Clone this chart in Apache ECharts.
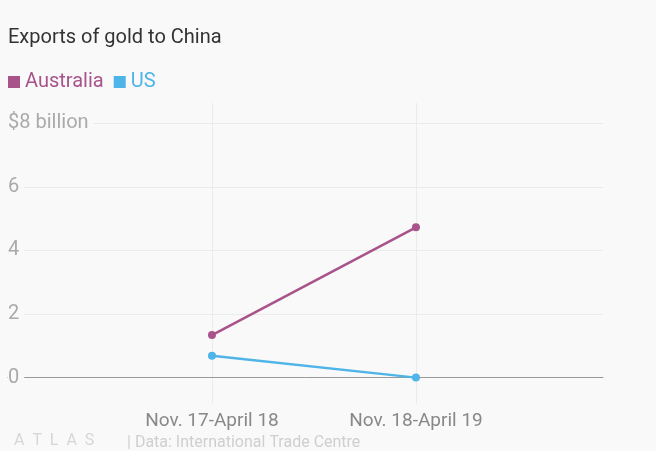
<!DOCTYPE html>
<html><head><meta charset="utf-8">
<script src="https://cdn.jsdelivr.net/npm/echarts@6/dist/echarts.min.js"></script>
<style>html,body{margin:0;padding:0;background:#f9f9f9;}#c{width:656px;height:451px;}</style>
</head><body><div id="c"></div>
<script>
const categories = ['Nov. 17-April 18', 'Nov. 18-April 19'];
const australia = [1.34, 4.73];
const us = [0.69, 0.0];
const yTicks = [0, 2, 4, 6, 8];
const yTickLabels = ['0', '2', '4', '6', '$8 billion'];

const BG = '#f9f9f9';
const FONT = 'Roboto';
const chart = echarts.init(document.getElementById('c'), null, {renderer: 'canvas'});
const xPos = categories.map((c, i) => i + 1);
chart.setOption({
  backgroundColor: BG,
  animation: false,
  textStyle: {fontFamily: FONT},
  title: {
    text: 'Exports of gold to China', left: 3, top: 23,
    textStyle: {fontFamily: FONT, fontSize: 20, fontWeight: 'normal', color: '#333'}
  },
  legend: {
    left: 3, top: 67, icon: 'rect', itemWidth: 12, itemHeight: 12, itemGap: 10,
    textStyle: {fontFamily: FONT, fontSize: 20},
    data: [
      {name: 'Australia', textStyle: {color: '#a8538a'}},
      {name: 'US', textStyle: {color: '#4fb4e8'}}
    ]
  },
  grid: {left: 8, right: 53, top: 103, bottom: 47, containLabel: false},
  xAxis: {
    type: 'value', min: 0, max: 2.917,
    axisLine: {show: true, onZero: true, lineStyle: {color: '#999', width: 1}},
    axisTick: {show: false, customValues: xPos},
    axisLabel: {
      customValues: xPos, margin: 8, fontSize: 19, color: '#888', fontFamily: FONT,
      formatter: v => categories[Math.round(v) - 1] || ''
    },
    splitLine: {show: true, lineStyle: {color: '#ebebeb', width: 1}}
  },
  yAxis: {
    type: 'value', min: -0.83, max: 8.64,
    axisLine: {show: false},
    axisTick: {show: false, customValues: yTicks},
    axisLabel: {
      customValues: yTicks, inside: true, margin: 0, fontSize: 20, color: '#aaa', fontFamily: FONT,
      verticalAlign: 'middle', backgroundColor: BG, padding: [0, 5, 0, 0],
      formatter: v => yTickLabels[yTicks.indexOf(v)]
    },
    splitLine: {show: true, lineStyle: {color: '#ebebeb', width: 1}}
  },
  series: [
    {name: 'Australia', type: 'line', data: xPos.map((x, i) => [x, australia[i]]),
     color: '#a8538a', symbol: 'circle', symbolSize: 8, lineStyle: {width: 2.5}, z: 5},
    {name: 'US', type: 'line', data: xPos.map((x, i) => [x, us[i]]),
     color: '#4fb4e8', symbol: 'circle', symbolSize: 8, lineStyle: {width: 2.5}, z: 5}
  ],
  graphic: [
    {type: 'text', left: 14, top: 433, style: {text: 'A  T  L  A  S', fontFamily: FONT, fontSize: 16, fill: '#d6d6d6'}},
    {type: 'text', left: 127, top: 435, style: {text: '| Data: International Trade Centre', fontFamily: FONT, fontSize: 16, fill: '#cfcfcf'}}
  ]
});
</script></body></html>
